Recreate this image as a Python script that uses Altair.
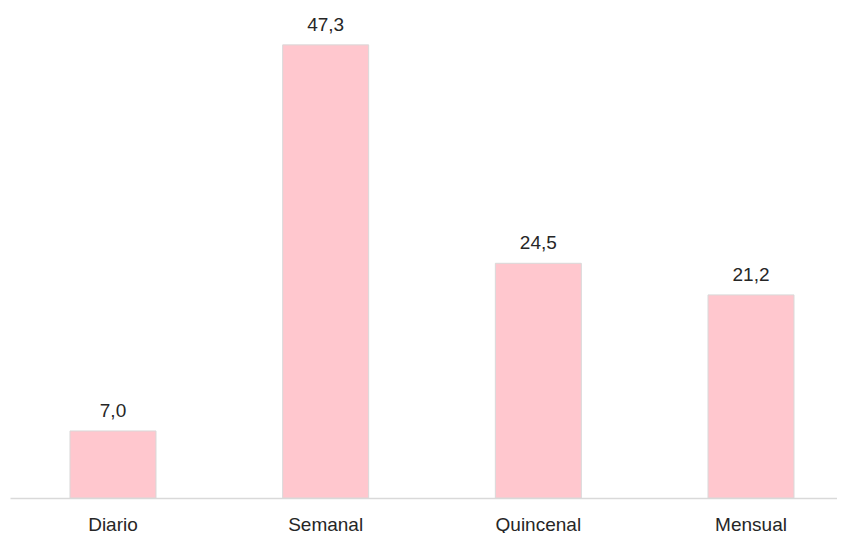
import altair as alt
import pandas as pd

categories = ["Diario", "Semanal", "Quincenal", "Mensual"]
values = [7.0, 47.3, 24.5, 21.2]

df = pd.DataFrame({"cat": categories, "val": values})

FONT = "Liberation Sans"
TXT = "#262626"

x = alt.X(
    "cat:N",
    sort=categories,
    title=None,
    scale=alt.Scale(paddingInner=0.5956, paddingOuter=0.2421, align=0.5825),
    axis=alt.Axis(
        labelAngle=0,
        labelFont=FONT,
        labelFontSize=19,
        labelColor=TXT,
        labelBaseline="alphabetic",
        labelPadding=32,
        ticks=False,
        tickSize=0,
        domainColor="#D9D9D9",
        domainWidth=1.5,
        grid=False,
    ),
)
y = alt.Y(
    "val:Q",
    title=None,
    scale=alt.Scale(domain=[0, 50], nice=False),
    axis=None,
)

bars = alt.Chart(df).mark_bar(
    color="#FFC7CE", stroke="#D9D9D9", strokeWidth=1
).encode(x=x, y=y)

labels = alt.Chart(df).transform_calculate(
    lbl="replace(format(datum.val, '.1f'), '.', ',')"
).mark_text(
    font=FONT, fontSize=19, color=TXT, baseline="alphabetic", dy=-14
).encode(x=x, y=y, text="lbl:N")

chart = (
    alt.layer(bars, labels)
    .properties(
        width=827,
        height=479,
        background="white",
        autosize=alt.AutoSizeParams(type="none"),
        padding={"left": 2, "top": 11, "right": 0, "bottom": 35},
    )
    .configure_view(stroke=None, strokeWidth=0)
)

chart.save("out.html", embed_options={"renderer": "svg", "actions": False})
